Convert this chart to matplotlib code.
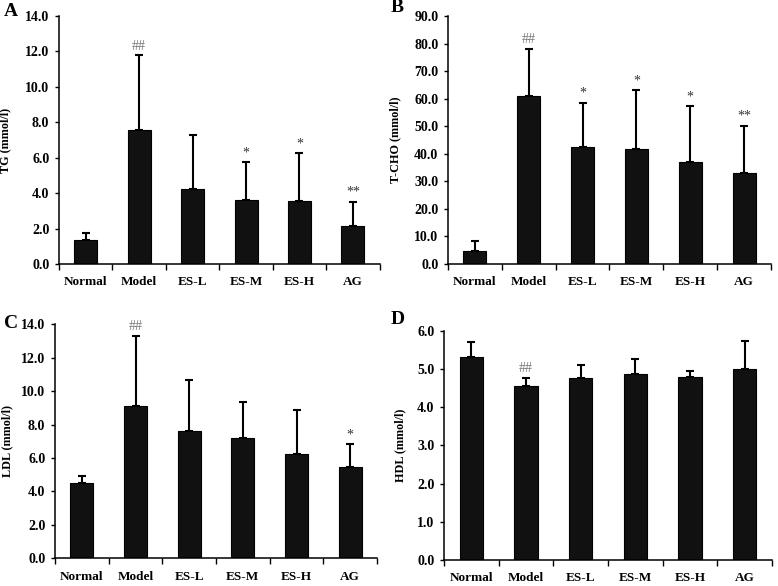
import numpy as np
import matplotlib
matplotlib.use('Agg')
import matplotlib.pyplot as plt

plt.rcParams['font.family'] = ['Liberation Serif', 'DejaVu Serif']

groups = ['Normal', 'Model', 'ES-L', 'ES-M', 'ES-H', 'AG']

# values (mean and upper error)
tg_mean = [1.37, 7.55, 4.23, 3.61, 3.57, 2.17]
tg_sd = [0.37, 4.22, 3.05, 2.14, 2.67, 1.34]
tg_marks = ['', '##', '', '*', '*', '**']

tc_mean = [4.75, 60.9, 42.3, 41.9, 37.0, 33.0]
tc_sd = [3.65, 17.1, 16.2, 21.1, 20.2, 17.2]
tc_marks = ['', '##', '*', '*', '*', '**']

ldl_mean = [4.53, 9.09, 7.62, 7.18, 6.22, 5.46]
ldl_sd = [0.40, 4.23, 3.05, 2.15, 2.63, 1.36]
ldl_marks = ['', '##', '', '', '', '*']

hdl_mean = [5.32, 4.56, 4.76, 4.86, 4.78, 5.01]
hdl_sd = [0.39, 0.21, 0.34, 0.40, 0.17, 0.73]
hdl_marks = ['', '##', '', '', '', '']


def draw_panel(ax, mean, sd, marks, ymax, ystep, ylabel, lab_x, letter, letter_xy):
    x = np.arange(len(groups))
    ax.bar(x, mean, width=0.43, color='#111111', edgecolor='black', linewidth=0.8, zorder=2)
    ax.errorbar(x, mean, yerr=[np.zeros(len(sd)), sd], fmt='none', ecolor='black',
                elinewidth=1.5, capsize=3, capthick=1.5, zorder=3)
    for i in range(len(groups)):
        if marks[i]:
            col = '#777777' if marks[i] == '##' else '#333333'
            ax.annotate(marks[i], (x[i], mean[i] + sd[i]), xytext=(0, 2),
                        textcoords='offset points', ha='center', va='bottom',
                        fontsize=10, color=col)
    ax.set_xlim(-0.5, len(groups) - 0.5)
    ax.set_ylim(0, ymax)
    ticks = np.arange(0, ymax + ystep / 2, ystep)
    ax.set_yticks(ticks)
    ax.set_yticklabels(['%.1f' % v for v in ticks], fontsize=10, fontweight='bold')
    ax.set_xticks(x)
    ax.set_xticklabels(groups, fontsize=9.5, fontweight='bold')
    ax.set_xticks(np.arange(-0.5, len(groups)), minor=True)
    ax.tick_params(axis='x', which='major', length=0, pad=9)
    ax.tick_params(axis='x', which='minor', length=4, width=1, direction='out')
    ax.tick_params(axis='y', length=3, width=1, direction='out', pad=4)
    ax.spines['top'].set_visible(False)
    ax.spines['right'].set_visible(False)
    ax.spines['left'].set_linewidth(1.1)
    ax.spines['bottom'].set_linewidth(1.1)
    ax.set_ylabel(ylabel, fontsize=8.7, fontweight='bold')
    ax.yaxis.set_label_coords(lab_x, 0.5)
    fig.text(letter_xy[0], letter_xy[1], letter, fontsize=14, fontweight='bold',
             ha='left', va='center')


fig = plt.figure(figsize=(7.78, 5.86), dpi=100)
ax1 = fig.add_axes([0.0758, 0.5495, 0.4122, 0.4232])
ax2 = fig.add_axes([0.5758, 0.5495, 0.4152, 0.4232])
ax3 = fig.add_axes([0.0707, 0.0473, 0.4139, 0.3994])
ax4 = fig.add_axes([0.5707, 0.0444, 0.4216, 0.3913])

draw_panel(ax1, tg_mean, tg_sd, tg_marks, 14.0, 2.0, 'TG (mmol/l)', -0.148,
           'A', (0.005, 1 - 11 / 586))
draw_panel(ax2, tc_mean, tc_sd, tc_marks, 90.0, 10.0, 'T-CHO (mmol/l)', -0.146,
           'B', (0.502, 1 - 8 / 586))
draw_panel(ax3, ldl_mean, ldl_sd, ldl_marks, 14.0, 2.0, 'LDL (mmol/l)', -0.128,
           'C', (0.005, 1 - 324 / 586))
draw_panel(ax4, hdl_mean, hdl_sd, hdl_marks, 6.0, 1.0, 'HDL (mmol/l)', -0.116,
           'D', (0.502, 1 - 320 / 586))

fig.savefig('out.png', dpi=100)
